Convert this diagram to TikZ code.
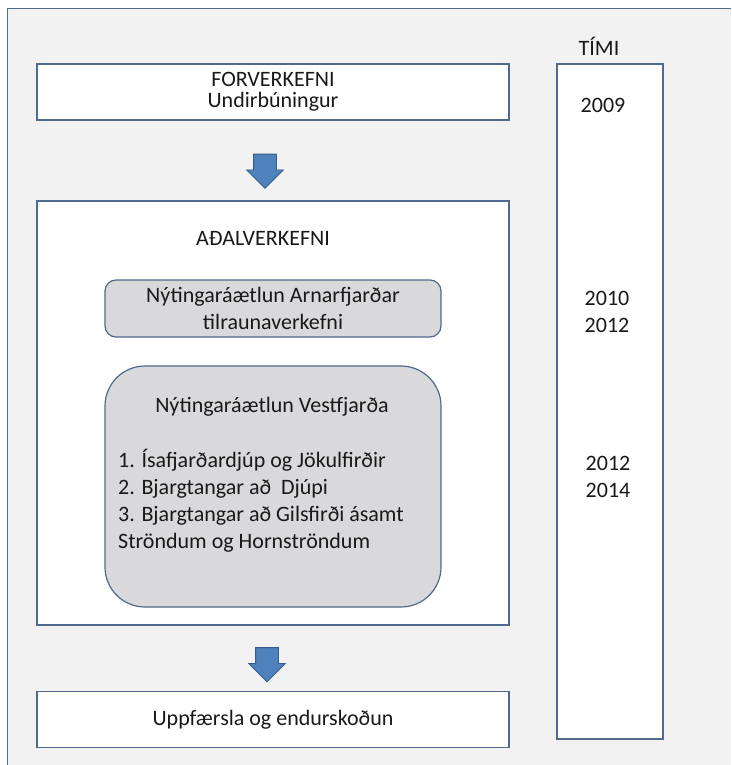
\documentclass[tikz,border=0pt]{standalone}
\usepackage{fontspec}
\setmainfont{Carlito}
\usetikzlibrary{shapes.arrows}
\definecolor{framebg}{HTML}{F2F2F2}
\definecolor{edge}{HTML}{4F6A8C}
\definecolor{roundfill}{HTML}{D9D9DB}
\definecolor{arrowfill}{HTML}{4F81BD}
\definecolor{arrowedge}{HTML}{385D8A}
\begin{document}
\begin{tikzpicture}[x=1pt,y=-1pt,
  every node/.style={font=\fontsize{22}{27}\selectfont, text=black!90},
  whitebox/.style={draw=edge, line width=1.2pt, fill=white, rectangle, inner sep=0pt, align=center},
  greybox/.style={draw=edge, line width=1.2pt, fill=roundfill, rectangle, inner sep=0pt, align=center},
  blockarrow/.style={single arrow, shape border rotate=270, draw=arrowedge, line width=0.8pt, fill=arrowfill,
    minimum height=33pt, minimum width=36pt, single arrow head extend=7pt, inner sep=11pt, single arrow tip angle=90},
  label/.style={inner sep=0pt, anchor=center}
]
\useasboundingbox (0,0) rectangle (731,765);
\fill[white] (0,0) rectangle (731,765);
\fill[framebg] (7,9) rectangle (731,765);
\draw[edge, line width=1pt] (731,9) -- (7,9) -- (7,765);

% time column
\node[whitebox, minimum width=106pt, minimum height=675pt] (time) at (610,401.5) {};
\node[label] (timi) at (599,46) {TÍMI};
\node[label] (y2009) at (603,105) {2009};
\node[label, align=center] (y2010) at (607,312) {2010\\2012};
\node[label, align=center] (y2012) at (608,477) {2012\\2014};

% main column
\node[whitebox, minimum width=472pt, minimum height=56pt, font=\fontsize{22}{21}\selectfont] (pre) at (273,92) {FORVERKEFNI\\Undirbúningur};
\node[blockarrow] (a1) at (265,165.5) {};
\node[whitebox, minimum width=472pt, minimum height=424pt] (main) at (273,413) {};
\node[label] (maintitle) at (263,238) {AÐALVERKEFNI};
\node[greybox, rounded corners=11pt, minimum width=336pt, minimum height=57pt] (arn) at (273,308.5) {Nýtingaráætlun Arnarfjarðar\\tilraunaverkefni};
\node[greybox, rounded corners=40pt, minimum width=336pt, minimum height=241pt] (vest) at (273,486.5) {};
\node[label] (vesttitle) at (272,407) {Nýtingaráætlun Vestfjarða};
\node[label, anchor=north west, align=left] (vestlist) at (118,449) {1. Ísafjarðardjúp og Jökulfirðir\\2. Bjargtangar að~~Djúpi\\3. Bjargtangar að Gilsfirði ásamt\\Ströndum og Hornströndum};
\node[blockarrow] (a2) at (267,659) {};
\node[whitebox, minimum width=472pt, minimum height=56pt] (upd) at (273,719.5) {Uppfærsla og endurskoðun};
\end{tikzpicture}
\end{document}
